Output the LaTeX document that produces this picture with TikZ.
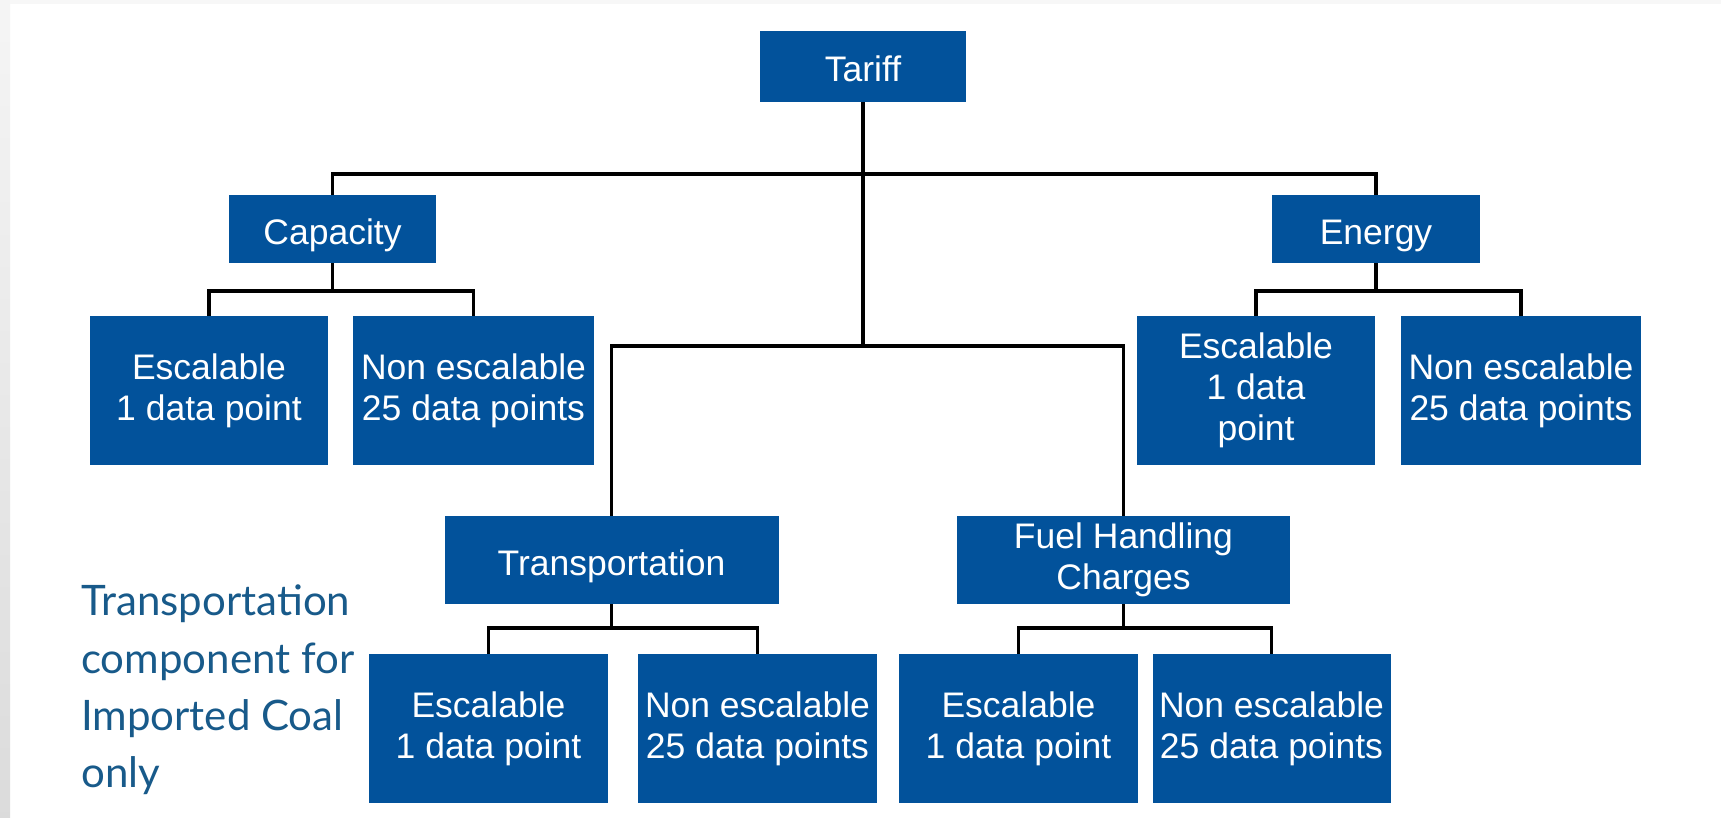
\documentclass[tikz,border=0pt]{standalone}
\usepackage{fontspec}
\setmainfont{Liberation Sans}
\newfontfamily\sidefont{Lato}
\definecolor{boxblue}{RGB}{2,82,155}
\definecolor{sideblue}{RGB}{24,90,138}
\newcommand\lnstrut{\rule[-0.212em]{0pt}{1.29em}}
\begin{document}
\begin{tikzpicture}[x=1pt,y=-1pt,
  box/.style={fill=boxblue,text=white,align=center,inner sep=0pt,
    font=\fontsize{35.5}{41}\selectfont,
    execute at begin node=\lnstrut, execute at end node=\lnstrut},
  conn/.style={line width=3.3pt,black},
  side/.style={anchor=base west,inner sep=0pt,text=sideblue,
    font=\sidefont\fontsize{42}{57}\selectfont}]
\useasboundingbox (0,0) rectangle (1721,818);
\fill[white] (0,0) rectangle (1721,818);
\shade[top color=gray!8,bottom color=gray!28] (0,0) rectangle (10,818);
\fill[gray!6] (10,0) rectangle (1721,4);

% nodes
\node[box,minimum width=206pt,minimum height=71pt] (tariff) at (863,66.5) {Tariff};
\node[box,minimum width=207pt,minimum height=68pt] (cap) at (332.5,229) {Capacity};
\node[box,minimum width=208pt,minimum height=68pt] (en) at (1376,229) {Energy};

\node[box,minimum width=238pt,minimum height=149pt] (capE) at (209,390.5) {Escalable\\1 data point};
\node[box,minimum width=241pt,minimum height=149pt] (capN) at (473.5,390.5) {Non escalable\\25 data points};
\node[box,minimum width=238pt,minimum height=149pt] (enE) at (1256,390.5) {Escalable\\1 data\\point};
\node[box,minimum width=240pt,minimum height=149pt] (enN) at (1521,390.5) {Non escalable\\25 data points};

\node[box,minimum width=334pt,minimum height=88pt] (tr) at (611.5,560) {Transportation};
\node[box,minimum width=333pt,minimum height=88pt] (fh) at (1123.5,560) {Fuel Handling\\Charges};

\node[box,minimum width=239pt,minimum height=149pt] (trE) at (488.5,728.8) {Escalable\\1 data point};
\node[box,minimum width=239pt,minimum height=149pt] (trN) at (757.5,728.8) {Non escalable\\25 data points};
\node[box,minimum width=239pt,minimum height=149pt] (fhE) at (1018.5,728.8) {Escalable\\1 data point};
\node[box,minimum width=238pt,minimum height=149pt] (fhN) at (1271.5,728.8) {Non escalable\\25 data points};

% side text
\node[side] (s1) at (81,615) {Transportation};
\node[side] (s2) at (81,673) {component for};
\node[side] (s3) at (81,730) {Imported Coal};
\node[side] (s4) at (81,787) {only};

% junction levels
\coordinate (y1) at (0,174);
\coordinate (y2) at (0,346);
\coordinate (yc) at (0,291);
\coordinate (yt) at (0,628);

% connectors
\draw[conn] (tariff.south) -- (tariff.south |- y2);
\draw[conn] (cap.north) -- (cap.north |- y1) -- (en.north |- y1) -- (en.north);
\draw[conn] (tr.north) -- (tr.north |- y2) -- (fh.north |- y2) -- (fh.north);
\draw[conn] (cap.south) -- (cap.south |- yc);
\draw[conn] (capE.north) -- (capE.north |- yc) -- (capN.north |- yc) -- (capN.north);
\draw[conn] (en.south) -- (en.south |- yc);
\draw[conn] (enE.north) -- (enE.north |- yc) -- (enN.north |- yc) -- (enN.north);
\draw[conn] (tr.south) -- (tr.south |- yt);
\draw[conn] (trE.north) -- (trE.north |- yt) -- (trN.north |- yt) -- (trN.north);
\draw[conn] (fh.south) -- (fh.south |- yt);
\draw[conn] (fhE.north) -- (fhE.north |- yt) -- (fhN.north |- yt) -- (fhN.north);
\end{tikzpicture}
\end{document}
